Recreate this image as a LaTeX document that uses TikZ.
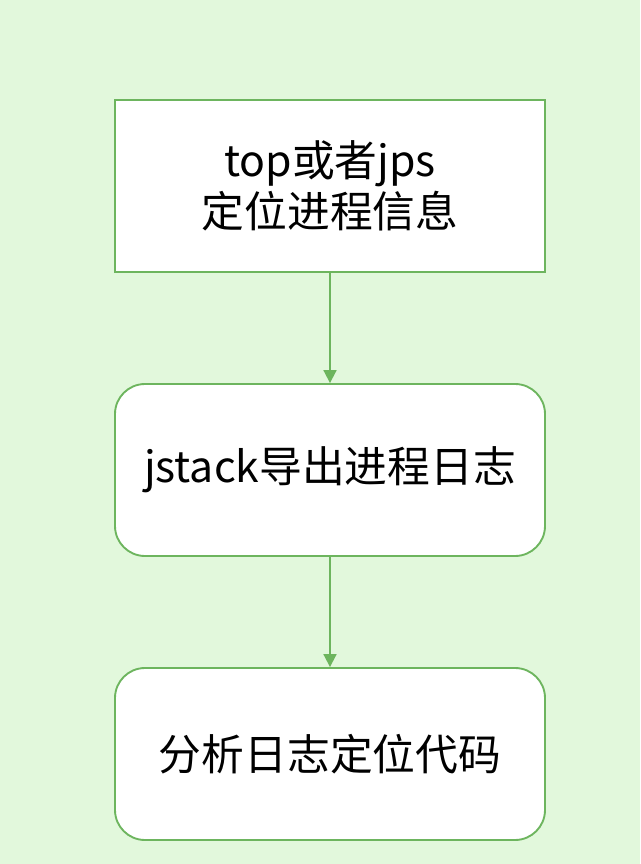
\documentclass[tikz,border=0pt]{standalone}
\usepackage{fontspec}
\setmainfont{Noto Sans CJK SC}
\usetikzlibrary{arrows.meta}
\definecolor{bgcol}{HTML}{E2F8DC}
\definecolor{linecol}{HTML}{6DB55E}
\tikzset{
  stepbox/.style={draw=linecol,fill=white,minimum width=430*0.03cm,minimum height=172*0.03cm,align=center,font=\fontsize{36.5}{44}\selectfont,line width=1.6pt},
  flow/.style={draw=linecol,line width=1.6pt,-{Triangle[length=11pt,width=11pt]}}
}
\begin{document}
\begin{tikzpicture}[x=0.03cm,y=-0.03cm]
\fill[bgcol] (0,0) rectangle (640,864);
\useasboundingbox (0,0) rectangle (640,864);

% locate process
\node[stepbox] (locate) at (330,186) {top或者jps\\定位进程信息};

% dump stack
\node[stepbox,rounded corners=30*0.03cm] (dump) at (330,470) {jstack导出进程日志};

% analyse log
\node[stepbox,rounded corners=30*0.03cm] (analyse) at (330,754) {分析日志定位代码};

\draw[flow] (locate) -- (dump);
\draw[flow] (dump) -- (analyse);

\end{tikzpicture}
\end{document}
